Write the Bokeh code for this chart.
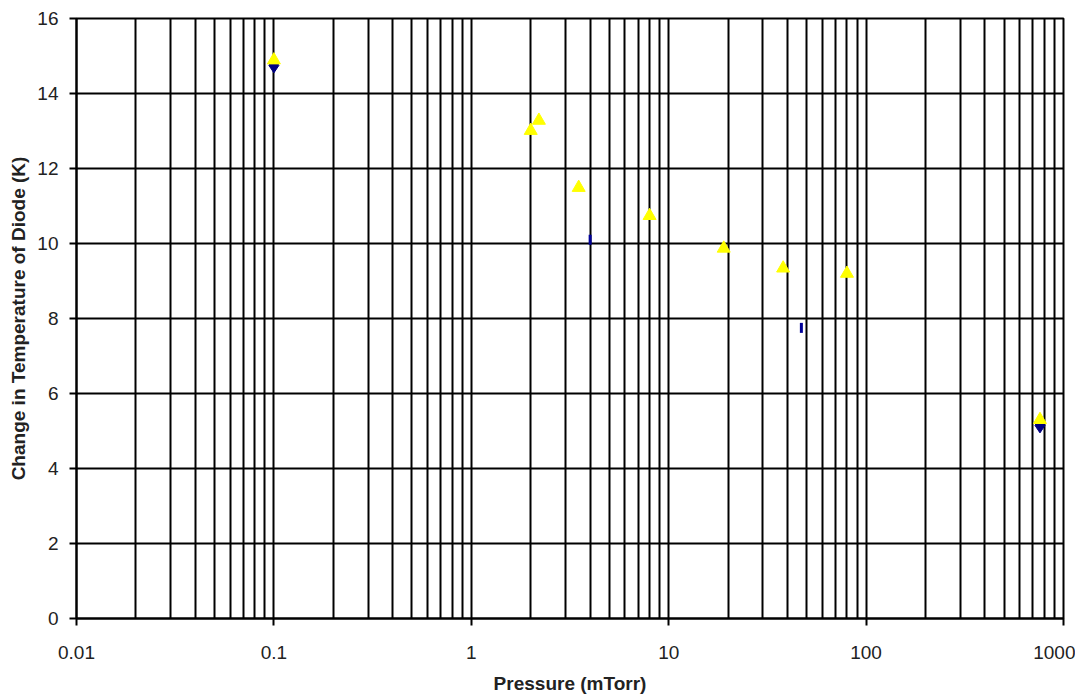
from bokeh.plotting import figure
from bokeh.models import FixedTicker, Range1d
from bokeh.embed import file_html
from bokeh.resources import INLINE

# Data
tri_x = [0.1, 2.0, 2.2, 3.5, 8.0, 19, 38, 80, 760]
tri_y = [14.89, 13.01, 13.28, 11.49, 10.74, 9.87, 9.34, 9.20, 5.30]

dia_x = [0.1, 760]
dia_y = [14.75, 5.15]

dash_x = [4.0, 47]
dash_y = [10.1, 7.75]

x_major = [0.01, 0.1, 1, 10, 100, 1000]
x_labels = ["0.01", "0.1", "1", "10", "100", "1000"]
y_major = [0, 2, 4, 6, 8, 10, 12, 14, 16]

minor = []
for d in x_major[:-1]:
    for k in range(2, 10):
        minor.append(d * k)

p = figure(width=1075, height=696, x_axis_type="log",
           x_range=Range1d(0.01, 1000), y_range=Range1d(0, 16),
           output_backend="svg", toolbar_location=None,
           min_border_left=76, min_border_right=12,
           min_border_top=18, min_border_bottom=76)

p.background_fill_color = "white"
p.border_fill_color = "white"
p.outline_line_color = "black"
p.outline_line_width = 2

p.xaxis.ticker = FixedTicker(ticks=x_major, minor_ticks=minor)
p.xaxis.major_label_overrides = {v: s for v, s in zip(x_major, x_labels)}
p.yaxis.ticker = FixedTicker(ticks=y_major)

for ax in (p.xaxis, p.yaxis):
    ax.axis_line_color = "black"
    ax.axis_line_width = 2
    ax.major_tick_line_color = "black"
    ax.major_tick_line_width = 2
    ax.major_tick_out = 7
    ax.major_tick_in = 0
    ax.minor_tick_out = 0
    ax.minor_tick_in = 0
    ax.major_label_text_font = "Liberation Sans"
    ax.major_label_text_font_size = "19px"
    ax.major_label_text_color = "#222222"
    ax.axis_label_text_font = "Liberation Sans"
    ax.axis_label_text_font_size = "19px"
    ax.axis_label_text_font_style = "bold"
    ax.axis_label_text_color = "#222222"

p.xaxis.axis_label = "Pressure (mTorr)"
p.yaxis.axis_label = "Change in Temperature of Diode (K)"
p.xaxis.major_label_standoff = 20
p.xaxis.axis_label_standoff = 11
p.yaxis.major_label_standoff = 11
p.yaxis.axis_label_standoff = 5

p.xgrid.grid_line_color = "black"
p.xgrid.grid_line_width = 2
p.xgrid.minor_grid_line_color = "black"
p.xgrid.minor_grid_line_width = 2
p.ygrid.grid_line_color = "black"
p.ygrid.grid_line_width = 2

p.scatter(dia_x, dia_y, marker="diamond", size=15, fill_color="#000080",
          line_color="#000080")
p.rect(dash_x, dash_y, width=3, height=10, width_units="screen",
       height_units="screen", fill_color="#000099", line_color=None)
p.scatter(tri_x, tri_y, marker="triangle", size=13, fill_color="#FFFF00",
          line_color="#FFFF00")

open("out.html", "w").write(file_html(p, INLINE))
